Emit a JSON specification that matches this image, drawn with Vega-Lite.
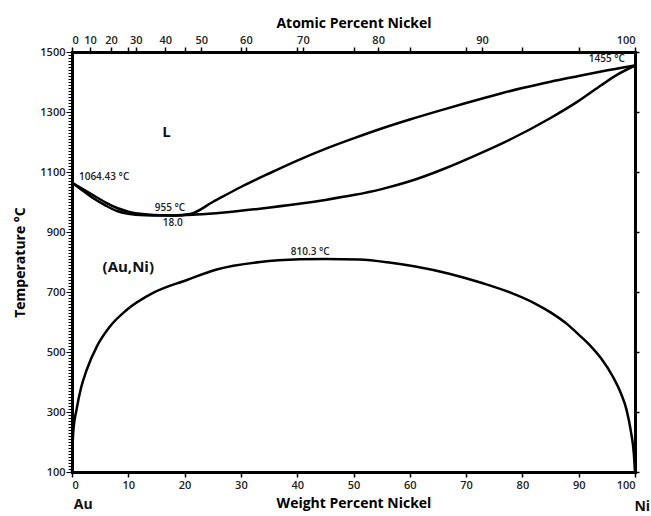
{
  "$schema": "https://vega.github.io/schema/vega-lite/v6.json",
  "width": 563,
  "height": 420,
  "autosize": {"type": "none"},
  "padding": {"left": 72, "top": 52, "right": 16, "bottom": 44},
  "background": "white",
  "config": {
    "font": "Open Sans",
    "view": {"stroke": null},
    "axis": {
      "grid": false,
      "domainColor": "black",
      "domainWidth": 3,
      "domainCap": "square",
      "tickColor": "black",
      "tickWidth": 1.5,
      "labelColor": "#222",
      "labelFont": "Open Sans",
      "labelFontSize": 11,
      "labelFontWeight": 600,
      "labelOverlap": false,
      "titleFont": "Open Sans",
      "titleFontSize": 14,
      "titleFontWeight": "bold",
      "titleColor": "black"
    }
  },
  "datasets": {
    "curves": [
      {"curve": "liquidus", "i": 0, "w": 0, "T": 1064.43},
      {"curve": "liquidus", "i": 1, "w": 2, "T": 1042},
      {"curve": "liquidus", "i": 2, "w": 4, "T": 1020},
      {"curve": "liquidus", "i": 3, "w": 6, "T": 998},
      {"curve": "liquidus", "i": 4, "w": 8, "T": 980},
      {"curve": "liquidus", "i": 5, "w": 10, "T": 968},
      {"curve": "liquidus", "i": 6, "w": 13, "T": 959},
      {"curve": "liquidus", "i": 7, "w": 16, "T": 955.5},
      {"curve": "liquidus", "i": 8, "w": 18, "T": 955},
      {"curve": "liquidus", "i": 9, "w": 21, "T": 960},
      {"curve": "liquidus", "i": 10, "w": 25, "T": 1000},
      {"curve": "liquidus", "i": 11, "w": 30, "T": 1050},
      {"curve": "liquidus", "i": 12, "w": 35, "T": 1095},
      {"curve": "liquidus", "i": 13, "w": 40, "T": 1138},
      {"curve": "liquidus", "i": 14, "w": 45, "T": 1177},
      {"curve": "liquidus", "i": 15, "w": 50, "T": 1212},
      {"curve": "liquidus", "i": 16, "w": 55, "T": 1245},
      {"curve": "liquidus", "i": 17, "w": 60, "T": 1275},
      {"curve": "liquidus", "i": 18, "w": 65, "T": 1303},
      {"curve": "liquidus", "i": 19, "w": 70, "T": 1330},
      {"curve": "liquidus", "i": 20, "w": 76, "T": 1361},
      {"curve": "liquidus", "i": 21, "w": 80, "T": 1380},
      {"curve": "liquidus", "i": 22, "w": 85, "T": 1401},
      {"curve": "liquidus", "i": 23, "w": 90, "T": 1420},
      {"curve": "liquidus", "i": 24, "w": 94, "T": 1435},
      {"curve": "liquidus", "i": 25, "w": 100, "T": 1455},
      {"curve": "solidus", "i": 0, "w": 0, "T": 1064.43},
      {"curve": "solidus", "i": 1, "w": 2, "T": 1037},
      {"curve": "solidus", "i": 2, "w": 4, "T": 1010},
      {"curve": "solidus", "i": 3, "w": 6, "T": 988},
      {"curve": "solidus", "i": 4, "w": 8, "T": 970},
      {"curve": "solidus", "i": 5, "w": 10, "T": 961},
      {"curve": "solidus", "i": 6, "w": 13, "T": 956},
      {"curve": "solidus", "i": 7, "w": 16, "T": 955},
      {"curve": "solidus", "i": 8, "w": 18, "T": 955},
      {"curve": "solidus", "i": 9, "w": 22, "T": 958},
      {"curve": "solidus", "i": 10, "w": 27, "T": 965},
      {"curve": "solidus", "i": 11, "w": 33, "T": 977},
      {"curve": "solidus", "i": 12, "w": 40, "T": 993},
      {"curve": "solidus", "i": 13, "w": 45, "T": 1007},
      {"curve": "solidus", "i": 14, "w": 50, "T": 1023},
      {"curve": "solidus", "i": 15, "w": 55, "T": 1043},
      {"curve": "solidus", "i": 16, "w": 60, "T": 1069},
      {"curve": "solidus", "i": 17, "w": 66, "T": 1110},
      {"curve": "solidus", "i": 18, "w": 72, "T": 1158},
      {"curve": "solidus", "i": 19, "w": 78, "T": 1210},
      {"curve": "solidus", "i": 20, "w": 85, "T": 1280},
      {"curve": "solidus", "i": 21, "w": 90, "T": 1337},
      {"curve": "solidus", "i": 22, "w": 94, "T": 1389},
      {"curve": "solidus", "i": 23, "w": 97, "T": 1426},
      {"curve": "solidus", "i": 24, "w": 100, "T": 1455},
      {"curve": "gap", "i": 0, "w": 0, "T": 100},
      {"curve": "gap", "i": 1, "w": 0.1, "T": 180},
      {"curve": "gap", "i": 2, "w": 0.25, "T": 240},
      {"curve": "gap", "i": 3, "w": 0.8, "T": 307},
      {"curve": "gap", "i": 4, "w": 1.6, "T": 380},
      {"curve": "gap", "i": 5, "w": 2.6, "T": 440},
      {"curve": "gap", "i": 6, "w": 4.4, "T": 518},
      {"curve": "gap", "i": 7, "w": 6.7, "T": 584},
      {"curve": "gap", "i": 8, "w": 9.7, "T": 640},
      {"curve": "gap", "i": 9, "w": 14.4, "T": 697},
      {"curve": "gap", "i": 10, "w": 20.4, "T": 740},
      {"curve": "gap", "i": 11, "w": 25.7, "T": 775},
      {"curve": "gap", "i": 12, "w": 33.4, "T": 800},
      {"curve": "gap", "i": 13, "w": 40.5, "T": 809},
      {"curve": "gap", "i": 14, "w": 45, "T": 810.3},
      {"curve": "gap", "i": 15, "w": 51, "T": 808},
      {"curve": "gap", "i": 16, "w": 56, "T": 799},
      {"curve": "gap", "i": 17, "w": 61, "T": 785},
      {"curve": "gap", "i": 18, "w": 67, "T": 761},
      {"curve": "gap", "i": 19, "w": 73, "T": 729},
      {"curve": "gap", "i": 20, "w": 78, "T": 697},
      {"curve": "gap", "i": 21, "w": 82, "T": 664},
      {"curve": "gap", "i": 22, "w": 85, "T": 632},
      {"curve": "gap", "i": 23, "w": 88, "T": 592},
      {"curve": "gap", "i": 24, "w": 90, "T": 558},
      {"curve": "gap", "i": 25, "w": 92, "T": 522},
      {"curve": "gap", "i": 26, "w": 94, "T": 478},
      {"curve": "gap", "i": 27, "w": 96, "T": 420},
      {"curve": "gap", "i": 28, "w": 97.5, "T": 362},
      {"curve": "gap", "i": 29, "w": 98.5, "T": 307},
      {"curve": "gap", "i": 30, "w": 99.3, "T": 232},
      {"curve": "gap", "i": 31, "w": 99.8, "T": 160},
      {"curve": "gap", "i": 32, "w": 100, "T": 100}
    ],
    "smallLabels": [
      {"text": "1064.43 °C", "w": 5.7, "T": 1083},
      {"text": "955 °C", "w": 17.4, "T": 980},
      {"text": "18.0", "w": 17.9, "T": 929},
      {"text": "810.3 °C", "w": 42.3, "T": 834},
      {"text": "1455 °C", "w": 95.0, "T": 1477}
    ],
    "phaseLabels": [
      {"text": "L", "w": 16.8, "T": 1234},
      {"text": "(Au,Ni)", "w": 10.0, "T": 783}
    ],
    "elementLabels": [
      {"text": "Au", "w": 2.0, "T": -10},
      {"text": "Ni", "w": 101.3, "T": -16}
    ]
  },
  "resolve": {"axis": {"x": "independent", "y": "independent"}},
  "layer": [
    {
      "data": {"name": "curves"},
      "mark": {"type": "line", "color": "black", "strokeWidth": 2.5, "interpolate": "monotone"},
      "encoding": {
        "x": {
          "field": "w", "type": "quantitative",
          "scale": {"domain": [0, 100], "nice": false, "zero": false},
          "axis": {
            "orient": "bottom",
            "values": [0, 10, 20, 30, 40, 50, 60, 70, 80, 90, 100],
            "tickSize": 5,
            "labelPadding": 2,
            "title": "Weight Percent Nickel",
            "titlePadding": 6
          }
        },
        "y": {
          "field": "T", "type": "quantitative",
          "scale": {"domain": [100, 1500], "nice": false, "zero": false},
          "axis": {
            "orient": "left",
            "values": [100,110,120,130,140,150,160,170,180,190,200,210,220,230,240,250,260,270,280,290,300,310,320,330,340,350,360,370,380,390,400,410,420,430,440,450,460,470,480,490,500,510,520,530,540,550,560,570,580,590,600,610,620,630,640,650,660,670,680,690,700,710,720,730,740,750,760,770,780,790,800,810,820,830,840,850,860,870,880,890,900,910,920,930,940,950,960,970,980,990,1000,1010,1020,1030,1040,1050,1060,1070,1080,1090,1100,1110,1120,1130,1140,1150,1160,1170,1180,1190,1200,1210,1220,1230,1240,1250,1260,1270,1280,1290,1300,1310,1320,1330,1340,1350,1360,1370,1380,1390,1400,1410,1420,1430,1440,1450,1460,1470,1480,1490,1500],
            "labelExpr": "datum.value % 200 == 100 ? '' + datum.value : ''",
            "tickSize": {"condition": {"test": "datum.value % 200 == 100", "value": 6}, "value": 4},
            "tickWidth": 1,
            "labelPadding": 1,
            "title": "Temperature °C",
            "titlePadding": 12
          }
        },
        "detail": {"field": "curve", "type": "nominal"},
        "order": {"field": "i", "type": "quantitative"}
      }
    },
    {
      "data": {"name": "smallLabels"},
      "mark": {"type": "text", "fontSize": 10, "fontWeight": 600, "color": "#222", "align": "center", "baseline": "middle"},
      "encoding": {
        "x": {
          "field": "w", "type": "quantitative",
          "axis": {
            "orient": "top",
            "values": [0, 3.21, 6.93, 10, 11.32, 16.57, 20, 22.96, 30, 30.89, 40, 41.01, 50, 54.38, 60, 70, 72.84, 80, 90, 100],
            "labelExpr": "indexof([0, 3.21, 6.93, 11.32, 16.57, 22.96, 30.89, 41.01, 54.38, 72.84, 100], datum.value) >= 0 ? format(100 * (datum.value / 58.69) / ((datum.value / 58.69) + (100 - datum.value) / 196.97), '.0f') : ''",
            "tickSize": 5,
            "labelPadding": 2,
            "title": "Atomic Percent Nickel",
            "titlePadding": 4
          }
        },
        "y": {
          "field": "T", "type": "quantitative",
          "axis": {
            "orient": "right",
            "values": [100, 300, 500, 700, 900, 1100, 1300, 1500],
            "labels": false,
            "tickSize": 4,
            "title": null
          }
        },
        "text": {"field": "text"}
      }
    },
    {
      "data": {"name": "phaseLabels"},
      "mark": {"type": "text", "fontSize": 15, "fontWeight": "bold", "color": "#111", "align": "center", "baseline": "middle"},
      "encoding": {
        "x": {"field": "w", "type": "quantitative", "axis": null},
        "y": {"field": "T", "type": "quantitative", "axis": null},
        "text": {"field": "text"}
      }
    },
    {
      "data": {"name": "elementLabels"},
      "mark": {"type": "text", "fontSize": 14, "fontWeight": "bold", "color": "#111", "align": "center", "baseline": "middle"},
      "encoding": {
        "x": {"field": "w", "type": "quantitative", "axis": null},
        "y": {"field": "T", "type": "quantitative", "axis": null},
        "text": {"field": "text"}
      }
    }
  ]
}
